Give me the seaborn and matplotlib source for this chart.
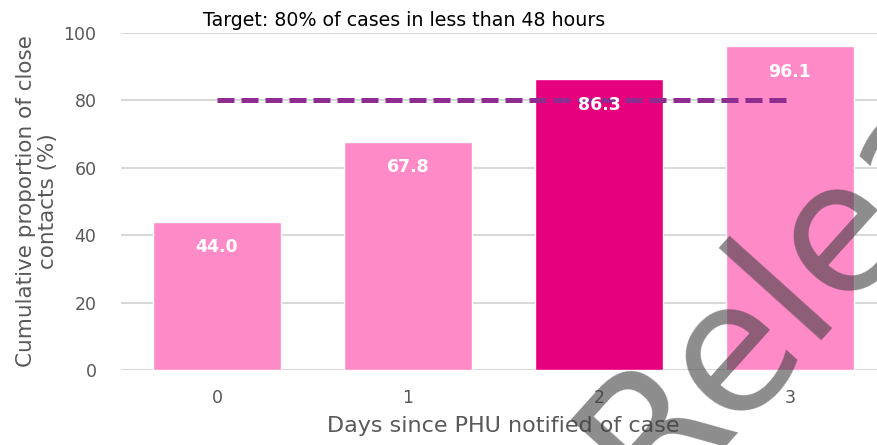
import matplotlib
matplotlib.use("Agg")
import matplotlib.pyplot as plt
import seaborn as sns
import pandas as pd

days = ["0", "1", "2", "3"]
values = [44.0, 67.8, 86.3, 96.1]
bar_colors = ["#FF8AC8", "#FF8AC8", "#E6007E", "#FF8AC8"]
target = 80
y_ticks = [0, 20, 40, 60, 80, 100]

sns.set_theme(style="white")
plt.rcParams['font.family'] = ['DejaVu Sans']

df = pd.DataFrame({"day": days, "value": values})

fig = plt.figure(figsize=(8.78, 4.45), dpi=100)
ax = fig.add_axes([121.5 / 878, 1 - 370 / 445, 764 / 878, 337 / 445])

sns.barplot(data=df, x="day", y="value", hue="day", palette=bar_colors,
            width=0.67, legend=False, saturation=1, ax=ax)

# target line
ax.hlines(target, 0, len(days) - 1, colors="#8E2C8F", linewidth=3.6,
          linestyles=(0, (3.4, 1.4)), zorder=5)

for c in ax.containers:
    labels = ax.bar_label(c, fmt="%.1f", padding=-25, color="white",
                          fontsize=12.5, fontweight="bold")
    for t in labels:
        t.set_zorder(6)

ax.set_ylim(0, 100)
ax.set_xlim(-0.5, len(days) - 0.5)
ax.set_yticks(y_ticks)
ax.yaxis.grid(True, color="#D9D9D9", linewidth=1.5)
ax.set_axisbelow(True)
for s in ax.spines.values():
    s.set_visible(False)
ax.tick_params(axis="both", length=0, colors="#595959", labelsize=12.5)
ax.tick_params(axis="x", pad=14)
ax.tick_params(axis="y", pad=18)

ax.set_xlabel("Days since PHU notified of case", fontsize=16, color="#595959", labelpad=6)
ax.set_ylabel("Cumulative proportion of close\ncontacts (%)", fontsize=15.5,
              color="#595959", labelpad=4, linespacing=1.15)

fig.text(203 / 878, 1 - 20 / 445, "Target: 80% of cases in less than 48 hours",
         fontsize=13.7, color="black", va="center", ha="left")

# watermark
fig.text(652 / 878, -64 / 445, "Released", fontsize=130, rotation=48,
         color="#404040", alpha=0.6, ha="left", va="baseline",
         rotation_mode="anchor", zorder=10)

fig.savefig("out.png", dpi=100)
